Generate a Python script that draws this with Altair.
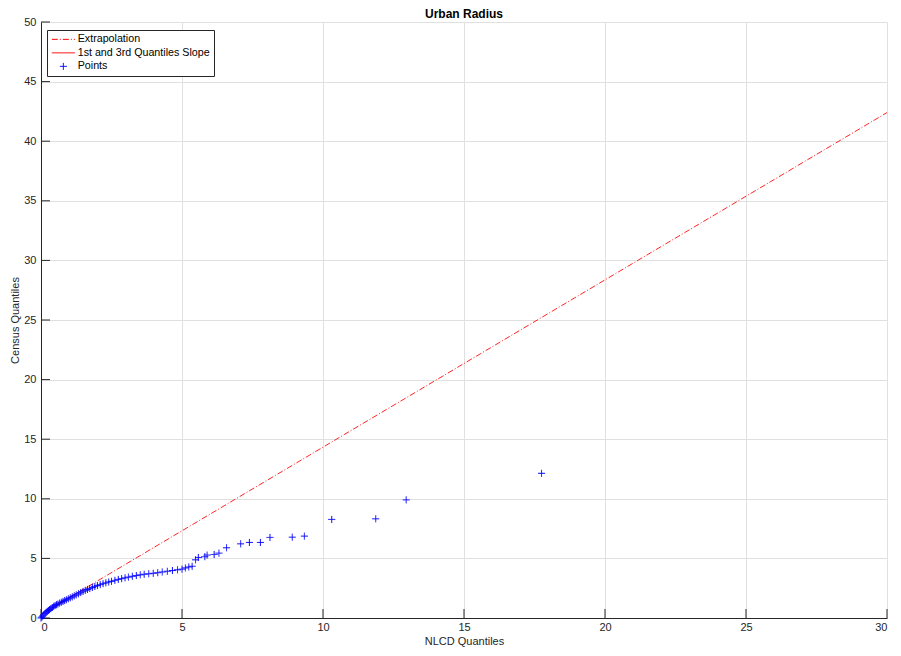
import altair as alt
import pandas as pd

# ---- data ----
pts_x = [0.00, 0.03, 0.06, 0.10, 0.14, 0.18, 0.22, 0.26, 0.30, 0.35, 0.40, 0.45, 0.50, 0.55,
         0.60, 0.66, 0.72, 0.78, 0.84, 0.90, 0.97, 1.04, 1.11, 1.18, 1.25, 1.33, 1.41, 1.49,
         1.57, 1.65, 1.73, 1.82, 1.91, 2.00, 2.10, 2.20, 2.30, 2.40, 2.50, 2.62, 2.74, 2.86,
         2.98, 3.10, 3.24, 3.38, 3.52, 3.66, 3.82, 3.98, 4.14, 4.30, 4.48, 4.66, 4.84, 5.00,
         5.12, 5.24, 5.36, 5.48, 5.58, 5.81, 5.89, 6.14, 6.31, 6.58, 7.08, 7.39, 7.78, 8.12,
         8.91, 9.34, 10.31, 11.87, 12.95, 17.75]
pts_y = [0.00, 0.08, 0.17, 0.27, 0.37, 0.47, 0.55, 0.63, 0.70, 0.78, 0.88, 0.98, 1.05, 1.11,
         1.17, 1.25, 1.32, 1.39, 1.46, 1.53, 1.61, 1.69, 1.77, 1.86, 1.94, 2.03, 2.13, 2.23,
         2.32, 2.40, 2.47, 2.56, 2.64, 2.72, 2.80, 2.88, 2.95, 3.02, 3.08, 3.16, 3.24, 3.30,
         3.37, 3.43, 3.50, 3.56, 3.62, 3.67, 3.71, 3.75, 3.80, 3.86, 3.92, 3.98, 4.04, 4.10,
         4.20, 4.28, 4.34, 4.88, 5.08, 5.14, 5.28, 5.33, 5.44, 5.89, 6.22, 6.34, 6.34, 6.76,
         6.78, 6.87, 8.27, 8.32, 9.91, 12.14]

extrap_x = [0.0, 30.0]
extrap_y = [0.30, 42.4]
quart_x = [0.55, 1.50]
quart_y = [1.07, 2.40]

series = ["Extrapolation", "1st and 3rd Quantiles Slope", "Points"]
x_ticks = [0, 5, 10, 15, 20, 25, 30]
y_ticks = [0, 5, 10, 15, 20, 25, 30, 35, 40, 45, 50]

W, H = 846, 596
DARK = "#262626"
FONT = "Liberation Sans"

pts = pd.DataFrame({"x": pts_x, "y": pts_y, "series": "Points"})
ext = pd.DataFrame({"x": extrap_x, "y": extrap_y})
qrt = pd.DataFrame({"x": quart_x, "y": quart_y})
xt = pd.DataFrame({"v": x_ticks})
yt = pd.DataFrame({"v": y_ticks})

xscale = alt.Scale(domain=[0, 30], nice=False, zero=False)
yscale = alt.Scale(domain=[0, 50], nice=False, zero=False)

xaxis = alt.Axis(values=x_ticks, title="NLCD Quantiles", grid=True, ticks=False,
                 labelPadding=3, titlePadding=3, domainColor=DARK)
yaxis = alt.Axis(values=y_ticks, title="Census Quantiles", grid=True, ticks=False,
                 labelPadding=5, titlePadding=3, domainColor=DARK)

line_path = "M-3.3,0L3.3,0"
plus_path = "M-1,0L1,0M0,-1L0,1"

ext_line = alt.Chart(ext).mark_line(color="#ff0000", strokeWidth=1, strokeDash=[6, 2, 1, 2],
                                    opacity=0.85).encode(
    x=alt.X("x:Q", scale=xscale, axis=xaxis),
    y=alt.Y("y:Q", scale=yscale, axis=yaxis),
)
q_line = alt.Chart(qrt).mark_line(color="#ff0000", strokeWidth=1).encode(
    x=alt.X("x:Q", scale=xscale),
    y=alt.Y("y:Q", scale=yscale),
)
points = alt.Chart(pts).mark_point(size=49, filled=False, strokeWidth=1, opacity=1).encode(
    x=alt.X("x:Q", scale=xscale),
    y=alt.Y("y:Q", scale=yscale),
    color=alt.Color("series:N",
                    scale=alt.Scale(domain=series, range=["#ff0000", "#ff0000", "#0000ff"]),
                    legend=alt.Legend(title=None, orient="none", legendX=6, legendY=8,
                                      strokeColor=DARK, fillColor="white", padding=4,
                                      symbolSize=49, symbolStrokeWidth=1, symbolOffset=7,
                                      labelOffset=9, rowPadding=1.5,
                                      labelFont=FONT, labelFontSize=10.7, labelColor="black")),
    shape=alt.Shape("series:N",
                    scale=alt.Scale(domain=series, range=[line_path, line_path, plus_path])),
    strokeDash=alt.StrokeDash("series:N",
                              scale=alt.Scale(domain=series, range=[[6, 2, 1, 2], [1, 0], [1, 0]])),
)
xtick_rules = alt.Chart(xt).mark_rule(color=DARK, strokeWidth=1).encode(
    x=alt.X("v:Q", scale=xscale), y=alt.value(H), y2=alt.value(H - 9))
ytick_rules = alt.Chart(yt).mark_rule(color=DARK, strokeWidth=1).encode(
    y=alt.Y("v:Q", scale=yscale), x=alt.value(0), x2=alt.value(9))

chart = alt.layer(xtick_rules, ytick_rules, ext_line, q_line, points).properties(
    width=W, height=H,
    title=alt.TitleParams("Urban Radius", fontSize=12, fontWeight="bold", font=FONT,
                          color="black", offset=-5, anchor="middle"),
    autosize=alt.AutoSizeParams(type="none"),
    padding={"left": 33, "top": 14, "right": 6, "bottom": 30},
).configure_view(strokeWidth=0).configure_axis(
    gridColor="#e0e0e0", gridWidth=1, labelFont=FONT, titleFont=FONT, labelFontSize=11,
    titleFontSize=11, labelColor=DARK, titleColor=DARK, titleFontWeight="normal",
    domainWidth=1,
)

chart.save("out.html", embed_options={"renderer": "svg", "actions": False})
